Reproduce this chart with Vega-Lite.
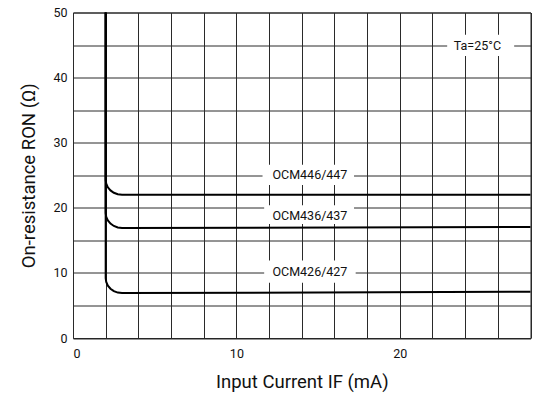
{
  "$schema": "https://vega.github.io/schema/vega-lite/v6.json",
  "autosize": "none",
  "width": 457.5,
  "height": 325.5,
  "padding": {"left": 73, "top": 12.5, "right": 2.5, "bottom": 69},
  "background": "white",
  "config": {
    "font": "Roboto",
    "view": {"stroke": "#222", "strokeWidth": 1},
    "axis": {
      "domain": false,
      "ticks": false,
      "gridColor": "#2a2a2a",
      "gridWidth": 1,
      "gridOpacity": 1,
      "labelFont": "Roboto",
      "labelFontSize": 12.5,
      "labelColor": "#111",
      "titleFont": "Roboto",
      "titleFontSize": 18.5,
      "titleFontWeight": "normal",
      "titleColor": "#111"
    }
  },
  "datasets": {
    "curves": [
      {"series": "OCM446/447", "i": 0, "x": 2, "y": 50},
      {"series": "OCM446/447", "i": 1, "x": 2, "y": 24.3},
      {"series": "OCM446/447", "i": 2, "x": 2.034, "y": 23.7},
      {"series": "OCM446/447", "i": 3, "x": 2.134, "y": 23.15},
      {"series": "OCM446/447", "i": 4, "x": 2.293, "y": 22.67},
      {"series": "OCM446/447", "i": 5, "x": 2.5, "y": 22.31},
      {"series": "OCM446/447", "i": 6, "x": 2.741, "y": 22.08},
      {"series": "OCM446/447", "i": 7, "x": 3, "y": 22.0},
      {"series": "OCM446/447", "i": 8, "x": 28, "y": 22.0},
      {"series": "OCM436/437", "i": 0, "x": 2, "y": 50},
      {"series": "OCM436/437", "i": 1, "x": 2, "y": 19.2},
      {"series": "OCM436/437", "i": 2, "x": 2.034, "y": 18.6},
      {"series": "OCM436/437", "i": 3, "x": 2.134, "y": 18.05},
      {"series": "OCM436/437", "i": 4, "x": 2.293, "y": 17.57},
      {"series": "OCM436/437", "i": 5, "x": 2.5, "y": 17.21},
      {"series": "OCM436/437", "i": 6, "x": 2.741, "y": 16.98},
      {"series": "OCM436/437", "i": 7, "x": 3, "y": 16.9},
      {"series": "OCM436/437", "i": 8, "x": 28, "y": 17.05},
      {"series": "OCM426/427", "i": 0, "x": 2, "y": 50},
      {"series": "OCM426/427", "i": 1, "x": 2, "y": 9.2},
      {"series": "OCM426/427", "i": 2, "x": 2.034, "y": 8.6},
      {"series": "OCM426/427", "i": 3, "x": 2.134, "y": 8.05},
      {"series": "OCM426/427", "i": 4, "x": 2.293, "y": 7.57},
      {"series": "OCM426/427", "i": 5, "x": 2.5, "y": 7.21},
      {"series": "OCM426/427", "i": 6, "x": 2.741, "y": 6.98},
      {"series": "OCM426/427", "i": 7, "x": 3, "y": 6.9},
      {"series": "OCM426/427", "i": 8, "x": 28, "y": 7.1}
    ],
    "labels": [
      {"label": "OCM446/447", "x": 14.5, "y": 25.0, "bx1": 11.6, "bx2": 17.2, "by1": 23.5, "by2": 26.6},
      {"label": "OCM436/437", "x": 14.5, "y": 18.8, "bx1": 11.7, "bx2": 17.2, "by1": 17.5, "by2": 20.4},
      {"label": "OCM426/427", "x": 14.5, "y": 10.1, "bx1": 11.7, "bx2": 17.3, "by1": 8.5, "by2": 11.9},
      {"label": "Ta=25°C", "x": 24.75, "y": 44.9, "bx1": 22.9, "bx2": 27.0, "by1": 43.3, "by2": 46.6}
    ]
  },
  "layer": [
    {
      "data": {"name": "labels"},
      "mark": {"type": "rect", "fill": "white", "stroke": null},
      "encoding": {
        "x": {
          "field": "bx1", "type": "quantitative",
          "scale": {"domain": [0, 28], "nice": false, "zero": false},
          "axis": {
            "values": [0, 2, 4, 6, 8, 10, 12, 14, 16, 18, 20, 22, 24, 26, 28],
            "labelExpr": "datum.value % 10 === 0 ? datum.label : ''",
            "labelPadding": 9,
            "title": "Input Current IF (mA)",
            "titlePadding": 13
          }
        },
        "x2": {"field": "bx2"},
        "y": {
          "field": "by1", "type": "quantitative",
          "scale": {"domain": [0, 50], "nice": false, "zero": false},
          "axis": {
            "values": [0, 5, 10, 15, 20, 25, 30, 35, 40, 45, 50],
            "labelExpr": "datum.value % 10 === 0 ? datum.label : ''",
            "labelPadding": 6,
            "title": "On-resistance RON (Ω)",
            "titlePadding": 14
          }
        },
        "y2": {"field": "by2"}
      }
    },
    {
      "data": {"name": "curves"},
      "mark": {"type": "line", "color": "#000", "strokeWidth": 2, "interpolate": "linear"},
      "encoding": {
        "x": {
          "field": "x", "type": "quantitative",
          "scale": {"domain": [0, 28], "nice": false, "zero": false},
          "axis": {
            "values": [0, 2, 4, 6, 8, 10, 12, 14, 16, 18, 20, 22, 24, 26, 28],
            "labelExpr": "datum.value % 10 === 0 ? datum.label : ''",
            "labelPadding": 9,
            "title": "Input Current IF (mA)",
            "titlePadding": 13
          }
        },
        "y": {
          "field": "y", "type": "quantitative",
          "scale": {"domain": [0, 50], "nice": false, "zero": false},
          "axis": {
            "values": [0, 5, 10, 15, 20, 25, 30, 35, 40, 45, 50],
            "labelExpr": "datum.value % 10 === 0 ? datum.label : ''",
            "labelPadding": 6,
            "title": "On-resistance RON (Ω)",
            "titlePadding": 14
          }
        },
        "detail": {"field": "series"},
        "order": {"field": "i"}
      }
    },
    {
      "data": {"name": "labels"},
      "mark": {"type": "text", "fontSize": 12.5, "color": "#111", "baseline": "middle", "align": "center", "font": "Roboto"},
      "encoding": {
        "x": {
          "field": "x", "type": "quantitative",
          "scale": {"domain": [0, 28], "nice": false, "zero": false},
          "axis": {
            "values": [0, 2, 4, 6, 8, 10, 12, 14, 16, 18, 20, 22, 24, 26, 28],
            "labelExpr": "datum.value % 10 === 0 ? datum.label : ''",
            "labelPadding": 9,
            "title": "Input Current IF (mA)",
            "titlePadding": 13
          }
        },
        "y": {
          "field": "y", "type": "quantitative",
          "scale": {"domain": [0, 50], "nice": false, "zero": false},
          "axis": {
            "values": [0, 5, 10, 15, 20, 25, 30, 35, 40, 45, 50],
            "labelExpr": "datum.value % 10 === 0 ? datum.label : ''",
            "labelPadding": 6,
            "title": "On-resistance RON (Ω)",
            "titlePadding": 14
          }
        },
        "text": {"field": "label"}
      }
    }
  ]
}
